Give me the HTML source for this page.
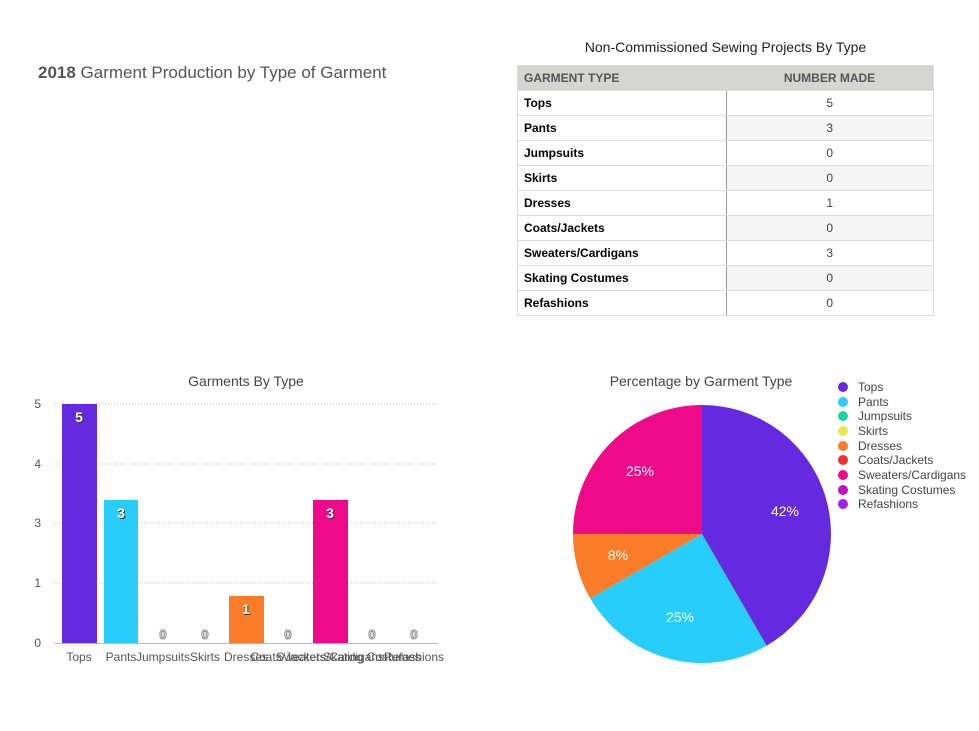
<!DOCTYPE html>
<html><head><style>
body{margin:0;width:979px;height:731px;background:#fff;font-family:"Liberation Sans",Arial,sans-serif;position:relative;overflow:hidden}
.a{position:absolute}
table{border-collapse:collapse;font-size:12px}
td{height:24px;border-bottom:1px solid #ddd;padding:0 6px;color:#000}
td.l{font-weight:bold;border-right:1px solid #999;background:#fff}
</style></head><body>
<div class="a" style="left:38px;top:63px;font-size:17px;color:#555"><b>2018</b> Garment Production by Type of Garment</div>
<div class="a" style="left:517px;top:39px;width:417px;text-align:center;font-size:14px;color:#222">Non-Commissioned Sewing Projects By Type</div>
<table class="a" style="left:517px;top:65px;width:417px;border:1px solid #ddd">
<tr style="background:#d5d5d2"><td style="width:196px;font-weight:bold;color:#555;height:24px">GARMENT TYPE</td><td style="text-align:center;font-weight:bold;color:#555">NUMBER MADE</td></tr>
<tr><td class="l">Tops</td><td style="text-align:center;color:#444">5</td></tr>
<tr style="background:#f5f5f5"><td class="l">Pants</td><td style="text-align:center;color:#444">3</td></tr>
<tr><td class="l">Jumpsuits</td><td style="text-align:center;color:#444">0</td></tr>
<tr style="background:#f5f5f5"><td class="l">Skirts</td><td style="text-align:center;color:#444">0</td></tr>
<tr><td class="l">Dresses</td><td style="text-align:center;color:#444">1</td></tr>
<tr style="background:#f5f5f5"><td class="l">Coats/Jackets</td><td style="text-align:center;color:#444">0</td></tr>
<tr><td class="l">Sweaters/Cardigans</td><td style="text-align:center;color:#444">3</td></tr>
<tr style="background:#f5f5f5"><td class="l">Skating Costumes</td><td style="text-align:center;color:#444">0</td></tr>
<tr><td class="l">Refashions</td><td style="text-align:center;color:#444">0</td></tr>
</table>
<svg class="a" style="left:0;top:0" width="979" height="731" font-family="Liberation Sans, Arial, sans-serif">
<text x="246" y="386" font-size="14" fill="#444" text-anchor="middle">Garments By Type</text>
<g stroke="#bbb" stroke-dasharray="1,2" stroke-width="1">
<line x1="54" y1="404" x2="438" y2="404"/><line x1="54" y1="464" x2="438" y2="464"/><line x1="54" y1="523" x2="438" y2="523"/><line x1="54" y1="583" x2="438" y2="583"/></g>
<g font-size="12" fill="#555" text-anchor="end"><text x="41" y="408">5</text><text x="41" y="468">4</text><text x="41" y="527">3</text><text x="41" y="587">1</text><text x="41" y="647">0</text></g>
<rect x="62" y="404" width="35" height="239" fill="#652ae0"/>
<rect x="104" y="500" width="34" height="143" fill="#27cefc"/>
<rect x="229" y="596" width="35" height="47" fill="#fa7b28"/>
<rect x="313" y="500" width="35" height="143" fill="#ef0a8a"/>
<line x1="54" y1="643.5" x2="438" y2="643.5" stroke="#bbb"/>
<g font-size="14" font-weight="bold" text-anchor="middle">
<g fill="#333" transform="translate(1,1)"><text x="79" y="422">5</text><text x="121" y="518">3</text><text x="246" y="614">1</text><text x="330" y="518">3</text></g>
<g fill="#fff"><text x="79" y="422">5</text><text x="121" y="518">3</text><text x="246" y="614">1</text><text x="330" y="518">3</text></g></g>
<g font-size="13" font-weight="bold" fill="#fff" stroke="#888" stroke-width="1" text-anchor="middle"><text x="163" y="639">0</text><text x="205" y="639">0</text><text x="288" y="639">0</text><text x="372" y="639">0</text><text x="414" y="639">0</text></g>
<g font-size="12" fill="#555" text-anchor="middle"><text x="79" y="661">Tops</text><text x="121" y="661">Pants</text><text x="163" y="661">Jumpsuits</text><text x="205" y="661">Skirts</text><text x="246" y="661">Dresses</text><text x="288" y="661">Coats/Jackets</text><text x="330" y="661">Sweaters/Cardigans</text><text x="372" y="661">Skating Costumes</text><text x="414" y="661">Refashions</text></g>
<text x="701" y="386" font-size="14" fill="#444" text-anchor="middle">Percentage by Garment Type</text>
<path d="M702,534 L702,405 A129,129 0 0 1 766.5,645.7 Z" fill="#652ae0"/>
<path d="M702,534 L766.5,645.7 A129,129 0 0 1 590.3,598.5 Z" fill="#27cefc"/>
<path d="M702,534 L590.3,598.5 A129,129 0 0 1 573,534 Z" fill="#fa7b28"/>
<path d="M702,534 L573,534 A129,129 0 0 1 702,405 Z" fill="#ef0a8a"/>
<g font-size="14" fill="#fff" text-anchor="middle"><text x="785" y="516">42%</text><text x="680" y="622">25%</text><text x="618" y="560">8%</text><text x="640" y="476">25%</text></g>
<g font-size="12" fill="#444">
<circle cx="843" cy="387" r="5" fill="#652ae0"/><text x="858" y="391">Tops</text>
<circle cx="843" cy="402" r="5" fill="#27cefc"/><text x="858" y="406">Pants</text>
<circle cx="843" cy="416" r="5" fill="#1fd3a0"/><text x="858" y="420">Jumpsuits</text>
<circle cx="843" cy="431" r="5" fill="#e8e84a"/><text x="858" y="435">Skirts</text>
<circle cx="843" cy="446" r="5" fill="#fa7b28"/><text x="858" y="450">Dresses</text>
<circle cx="843" cy="460" r="5" fill="#f03030"/><text x="858" y="464">Coats/Jackets</text>
<circle cx="843" cy="475" r="5" fill="#ef0a8a"/><text x="858" y="479">Sweaters/Cardigans</text>
<circle cx="843" cy="490" r="5" fill="#c010c0"/><text x="858" y="494">Skating Costumes</text>
<circle cx="843" cy="504" r="5" fill="#a020f0"/><text x="858" y="508">Refashions</text>
</g>
</svg>
</body></html>
